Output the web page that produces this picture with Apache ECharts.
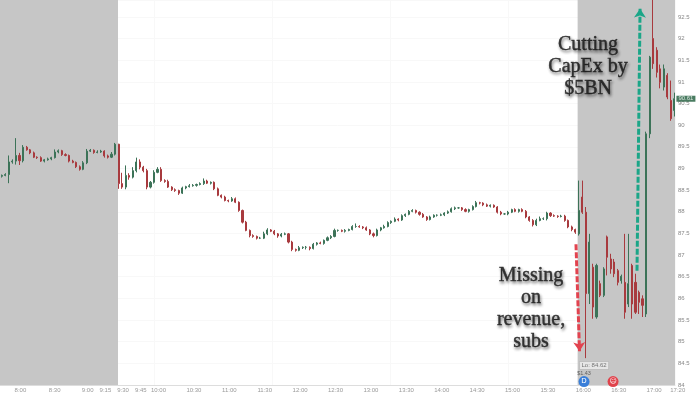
<!DOCTYPE html>
<html>
<head>
<meta charset="utf-8">
<style>
html, body { margin: 0; padding: 0; background: #fff; }
#main { width: 700px; height: 394px; }
</style>
<script src="https://cdn.jsdelivr.net/npm/echarts@6/dist/echarts.min.js"></script>
</head>
<body>
<div id="main"></div>
<script>
// bars are 3 minutes apart, first one at 7:51 (minutes since midnight)
var first_bar = 471
var bar_step = 3

var bar_close = [
    88.84,88.86,89.15,89.17,89.30,89.18,89.49,89.43,89.36,89.26,
    89.25,89.17,89.20,89.22,89.25,89.38,89.41,89.32,89.30,89.17,
    89.14,89.04,88.98,89.13,89.40,89.42,89.37,89.38,89.40,89.29,
    89.26,89.33,89.56,88.65,88.57,88.84,88.80,88.95,89.15,89.03,
    88.95,88.57,88.68,88.91,88.98,88.72,88.70,88.57,88.51,88.49,
    88.43,88.55,88.58,88.60,88.61,88.63,88.65,88.71,88.66,88.68,
    88.53,88.38,88.34,88.26,88.25,88.30,88.22,88.03,87.76,87.57,
    87.45,87.43,87.39,87.39,87.49,87.58,87.55,87.49,87.44,87.48,
    87.49,87.30,87.13,87.11,87.17,87.18,87.18,87.15,87.25,87.28,
    87.27,87.34,87.40,87.43,87.57,87.57,87.55,87.57,87.59,87.66,
    87.66,87.65,87.63,87.58,87.49,87.45,87.58,87.63,87.66,87.75,
    87.78,87.83,87.81,87.91,87.94,88.01,88.03,87.99,87.94,87.88,
    87.82,87.88,87.92,87.92,87.93,87.97,88.00,88.07,88.09,88.09,
    88.05,88.01,88.05,88.12,88.21,88.20,88.16,88.13,88.15,88.11,
    87.99,87.95,87.95,87.99,88.05,88.01,88.05,88.01,87.88,87.80,
    87.70,87.80,87.84,87.84,87.97,87.91,87.90,87.89,87.90,87.80,
    87.65,87.59,87.53
]
// wicks of the regular bars, in cents above / below the body
var wick_up = [
    2,3,15,4,40,6,5,3,2,3,
    2,3,2,3,2,6,3,2,3,2,
    3,2,3,4,5,3,2,4,3,2,
    3,5,3,1,25,23,5,8,10,6,
    3,4,3,5,5,5,3,4,2,3,
    2,3,2,4,3,2,3,6,3,2,
    2,3,2,3,2,4,3,2,2,3,
    2,3,2,3,5,4,2,3,2,3,
    3,2,3,2,4,2,3,2,3,2,
    3,2,3,3,4,2,2,3,2,3,
    7,3,2,3,2,3,3,2,4,3,
    2,4,2,3,2,3,3,2,2,3,
    2,3,2,2,3,2,3,3,3,2,
    2,3,2,3,4,2,2,3,2,2,
    2,3,2,3,2,3,2,3,3,2,
    3,4,5,3,3,2,3,2,3,3,
    2,3,2
]
var wick_dn = [
    3,2,20,4,8,10,4,2,3,2,
    3,2,3,2,3,2,3,3,2,3,
    2,3,3,2,3,2,3,2,2,4,
    3,2,3,12,4,5,6,3,4,5,
    4,5,3,3,2,3,3,2,3,3,
    4,2,3,2,2,3,2,3,2,3,
    3,2,3,2,3,2,2,3,3,2,
    4,3,3,2,2,3,2,3,4,3,
    2,3,4,3,2,3,5,4,2,3,
    2,3,2,3,2,3,2,3,2,2,
    3,2,3,2,3,4,2,3,2,2,
    3,2,3,2,3,2,2,3,3,2,
    3,2,2,3,2,3,2,2,3,2,
    3,2,3,2,2,3,3,2,3,2,
    3,3,2,3,2,2,3,2,3,3,
    4,3,2,3,4,3,2,3,2,3,
    3,4,4
]

// after the close the bars gap, so they are read one by one
var ah_open = [87.49,88.34,87.99,86.11,86.72,85.57,86.34,86.07,87.42,86.91,86.84,86.64,86.41,86.37,85.87,86.76,86.37,86.14,85.99,85.64,89.80,92.00,91.73,91.30,90.88,91.15,90.57,90.34]
var ah_close = [88.03,87.99,86.11,87.30,85.80,86.76,86.07,86.68,86.95,86.68,86.57,86.37,86.51,85.68,86.34,85.87,85.68,85.91,85.84,89.80,91.57,91.42,91.22,90.99,91.30,90.65,90.15,90.61]
var ah_high = [88.72,88.72,88.11,87.49,86.80,86.80,86.41,86.72,87.45,87.03,86.91,86.68,86.55,87.49,87.49,86.80,86.57,86.18,86.07,89.85,91.60,93.20,91.80,91.40,91.40,91.20,91.03,90.75]
var ah_low = [87.45,87.95,84.62,85.87,85.53,85.53,86.03,86.03,86.53,86.57,86.49,86.30,86.34,85.53,85.80,85.53,85.64,85.64,85.57,85.57,89.70,91.30,91.10,90.85,90.80,90.60,90.10,90.20]

var tick_labels = ['8:00','8:30','9:00','9:15','9:30','9:45','10:00','10:30','11:00','11:30','12:00','12:30','13:00','13:30','14:00','14:30','15:00','15:30','16:00','16:30','17:00','17:20']
var tick_minutes = [483,512,540,555,570,585,600,630,660,690,720,750,780,810,840,870,900,930,960,990,1020,1040]

// grey = market closed, in minutes
var closed_hours = [[469.5, 569.5], [959, 1041.5]]

var red_arrow = [[957.6, 87.25], [960.6, 84.78]]
var green_arrow = [[1009.3, 86.64], [1011.9, 92.69]]
var notes = [
    {text: 'Cutting\nCapEx by\n$5BN', at: [967.8, 91.36]},
    {text: 'Missing\non\nrevenue,\nsubs', at: [919.5, 85.77]}
]
var low_tag = {text: 'Lo: 84.62', at: [972.9, 84.45]}
var eps_tag = {text: '$1.43', at: [964.4, 84.27]}
var dividend_icon = [964.4, 84.08]
var earnings_icon = [989, 84.08]
var last_price = [1041, 90.61]

var bars = []
for (var i = 0; i < bar_close.length; i++) {
    var o = i == 0 ? bar_close[0] - 0.02 : bar_close[i - 1]
    var c = bar_close[i]
    bars.push([first_bar + i * bar_step, o, c,
        Math.min(o, c) - wick_dn[i] / 100,
        Math.max(o, c) + wick_up[i] / 100])
}
for (var j = 0; j < ah_close.length; j++) {
    bars.push([first_bar + (bar_close.length + j) * bar_step, ah_open[j], ah_close[j], ah_low[j], ah_high[j]])
}

var green = '#3c7358'
var red = '#a83a3e'

function tag_series(item, label) {
    return {
        type: 'scatter',
        symbolSize: 0,
        silent: true,
        z: 8,
        data: [item.at],
        label: Object.assign({show: true, position: 'inside', formatter: item.text}, label)
    }
}

function arrow_series(points, color) {
    return {
        type: 'line',
        data: [],
        z: 6,
        markLine: {
            silent: true,
            animation: false,
            symbol: ['none', 'arrow'],
            symbolSize: 9,
            label: {show: false},
            lineStyle: {color: color, width: 3, type: [6, 2], opacity: 1},
            data: [[{coord: points[0]}, {coord: points[1]}]]
        }
    }
}

function icon_series(at, color, glyph) {
    return {
        type: 'scatter',
        symbol: 'circle',
        symbolSize: 11,
        silent: true,
        z: 7,
        itemStyle: {color: color, opacity: 1},
        data: [at],
        label: {show: true, position: 'inside', formatter: glyph, color: '#fff', fontSize: 7, fontFamily: 'DejaVu Sans'}
    }
}

var note_label = {
    color: '#111',
    fontFamily: 'Liberation Serif',
    fontSize: 20,
    lineHeight: 22,
    align: 'center',
    textBorderColor: '#111',
    textBorderWidth: 0.4,
    textShadowColor: 'rgba(0,0,0,0.6)',
    textShadowBlur: 3,
    textShadowOffsetX: 1,
    textShadowOffsetY: 2
}

var option = {
    animation: false,
    backgroundColor: '#fff',
    grid: {left: 0, right: 25, top: 0, bottom: 9},
    xAxis: {
        type: 'value',
        min: 469.5,
        max: 1041.5,
        axisLine: {onZero: false, lineStyle: {color: '#ddd'}},
        axisTick: {show: false},
        splitLine: {show: true, customValues: tick_minutes, lineStyle: {color: '#f8f8f8'}},
        axisLabel: {
            customValues: tick_minutes,
            color: '#999',
            fontSize: 6,
            margin: 2,
            padding: [0, 0, 0, 9],
            hideOverlap: false,
            formatter: function(value) {
                return tick_labels[tick_minutes.indexOf(value)]
            }
        }
    },
    yAxis: {
        type: 'value',
        position: 'right',
        min: 84,
        max: 92.89,
        interval: 0.5,
        axisLine: {show: false},
        axisTick: {show: false},
        splitLine: {lineStyle: {color: '#f8f8f8'}},
        axisLabel: {color: '#888', fontSize: 6, margin: 3, showMaxLabel: false}
    },
    series: [
        {
            type: 'line',
            data: [],
            z: 1,
            markArea: {
                silent: true,
                itemStyle: {color: '#c6c6c6'},
                data: closed_hours.map(function(h) {
                    return [{xAxis: h[0]}, {xAxis: h[1]}]
                })
            }
        },
        {
            type: 'candlestick',
            barWidth: 1.6,
            clip: false,
            z: 3,
            encode: {x: 0, y: [1, 2, 3, 4]},
            itemStyle: {color: green, color0: red, borderColor: green, borderColor0: red, borderWidth: 1},
            data: bars
        },
        arrow_series(red_arrow, '#e2434f'),
        arrow_series(green_arrow, '#1ba688'),
        tag_series(notes[0], note_label),
        tag_series(notes[1], note_label),
        tag_series(low_tag, {
            color: '#555', fontSize: 6, backgroundColor: '#eee',
            borderColor: '#999', borderWidth: 0.5, borderRadius: 1, padding: [1, 2]
        }),
        tag_series(eps_tag, {color: '#444', fontSize: 5.5}),
        icon_series(dividend_icon, '#3a7fd9', 'D'),
        icon_series(earnings_icon, '#e0434c', '\u2639'),
        {
            type: 'scatter',
            symbolSize: 0,
            silent: true,
            z: 8,
            data: [last_price],
            label: {
                show: true,
                position: 'right',
                distance: 2,
                formatter: function(p) { return p.value[1].toFixed(2) },
                color: '#fff',
                fontSize: 6,
                backgroundColor: '#1d5b3a',
                padding: [0, 2]
            }
        }
    ]
}

var myChart = echarts.init(document.getElementById('main'))
myChart.setOption(option)
</script>
</body>
</html>
